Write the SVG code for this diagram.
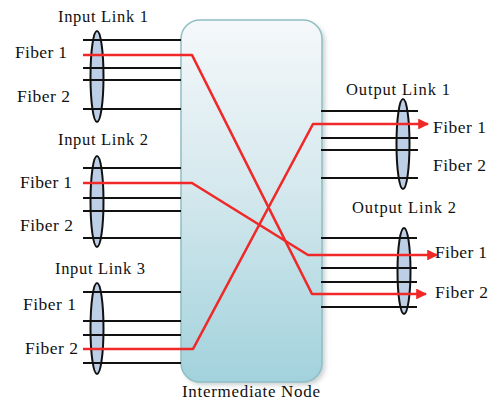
<svg xmlns="http://www.w3.org/2000/svg" width="488" height="402" viewBox="0 0 488 402">
  <defs>
    <linearGradient id="nodeFill" x1="0" y1="0" x2="0" y2="1">
      <stop offset="0" stop-color="#f5f8fa"/>
      <stop offset="0.45" stop-color="#d6e9ee"/>
      <stop offset="1" stop-color="#a2d2dc"/>
    </linearGradient>
    <filter id="shadow" x="-10%" y="-10%" width="130%" height="130%">
      <feGaussianBlur stdDeviation="2.5"/>
    </filter>
    <marker id="arrow" viewBox="0 0 10 10" refX="9" refY="5" markerWidth="4.4" markerHeight="4.2" orient="auto" markerUnits="strokeWidth">
      <path d="M0,0 L10,5 L0,10 z" fill="#f02828"/>
    </marker>
  </defs>
  <style>
    text { font-family: "Liberation Serif", "Times New Roman", serif; fill: #111; }
    .title { font-size: 16.5px; }
    .fiber { font-size: 17.5px; }
    .fib { stroke: #111; stroke-width: 1.8; fill: none; }
    .lens { fill: #bccfe6; stroke: #111; stroke-width: 2; }
    .path { stroke: #f02828; stroke-width: 2.6; fill: none; stroke-linejoin: round; }
  </style>
  <rect width="488" height="402" fill="#ffffff"/>

  <!-- switching node in the middle -->
  <g id="intermediate-node">
    <rect x="184" y="23" width="141" height="362" rx="19" fill="#9aa6aa" opacity="0.55" filter="url(#shadow)"/>
    <rect x="181" y="20" width="141" height="362" rx="19" fill="url(#nodeFill)" stroke="#8fbfc3" stroke-width="1.5"/>
    <text x="182" y="397" font-size="17" textLength="138" lengthAdjust="spacing">Intermediate Node</text>
  </g>

  <!-- input links -->
  <g id="input-link-1">
    <ellipse class="lens" cx="97" cy="76.5" rx="6.5" ry="45.5"/>
    <path class="fib" d="M83,40H181M83,68H181M83,80H181M83,109H181"/>
    <text class="title" x="58" y="22" textLength="90" lengthAdjust="spacing">Input Link 1</text>
    <text class="fiber" x="15" y="58" textLength="52" lengthAdjust="spacing">Fiber 1</text>
    <text class="fiber" x="17" y="102" textLength="53" lengthAdjust="spacing">Fiber 2</text>
  </g>
  <g id="input-link-2">
    <ellipse class="lens" cx="97" cy="201.5" rx="6.5" ry="45.5"/>
    <path class="fib" d="M83,168H181M83,198H181M83,211H181M83,238H181"/>
    <text class="title" x="58" y="145" textLength="90" lengthAdjust="spacing">Input Link 2</text>
    <text class="fiber" x="20" y="188" textLength="52" lengthAdjust="spacing">Fiber 1</text>
    <text class="fiber" x="20" y="231" textLength="53" lengthAdjust="spacing">Fiber 2</text>
  </g>
  <g id="input-link-3">
    <ellipse class="lens" cx="97" cy="328.5" rx="6.5" ry="45.5"/>
    <path class="fib" d="M83,292H181M83,321H181M83,335H181M83,363H181"/>
    <text class="title" x="55" y="274" textLength="90" lengthAdjust="spacing">Input Link 3</text>
    <text class="fiber" x="23" y="310" textLength="53" lengthAdjust="spacing">Fiber 1</text>
    <text class="fiber" x="25" y="354" textLength="53" lengthAdjust="spacing">Fiber 2</text>
  </g>

  <!-- output links -->
  <g id="output-link-1">
    <ellipse class="lens" cx="403" cy="144" rx="6.5" ry="45"/>
    <path class="fib" d="M321,111H418M321,138H418M321,150H418M321,178H418"/>
    <text class="title" x="346" y="95" textLength="104" lengthAdjust="spacing">Output Link 1</text>
    <text class="fiber" x="433" y="133" textLength="53" lengthAdjust="spacing">Fiber 1</text>
    <text class="fiber" x="433" y="171" textLength="53" lengthAdjust="spacing">Fiber 2</text>
  </g>
  <g id="output-link-2">
    <ellipse class="lens" cx="404" cy="271" rx="6.5" ry="43"/>
    <path class="fib" d="M321,238H417M321,268H417M321,282H417M321,307H417"/>
    <text class="title" x="352" y="213" textLength="104" lengthAdjust="spacing">Output Link 2</text>
    <text class="fiber" x="435" y="258" textLength="52" lengthAdjust="spacing">Fiber 1</text>
    <text class="fiber" x="435" y="298" textLength="53" lengthAdjust="spacing">Fiber 2</text>
  </g>

  <!-- switched lightpaths through the node -->
  <g id="connectors">
    <path class="path" d="M83,55H192L312,294H426" marker-end="url(#arrow)"/>
    <path class="path" d="M83,183H192L308,255H437" marker-end="url(#arrow)"/>
    <path class="path" d="M83,349H193L313,124H428" marker-end="url(#arrow)"/>
  </g>
</svg>
